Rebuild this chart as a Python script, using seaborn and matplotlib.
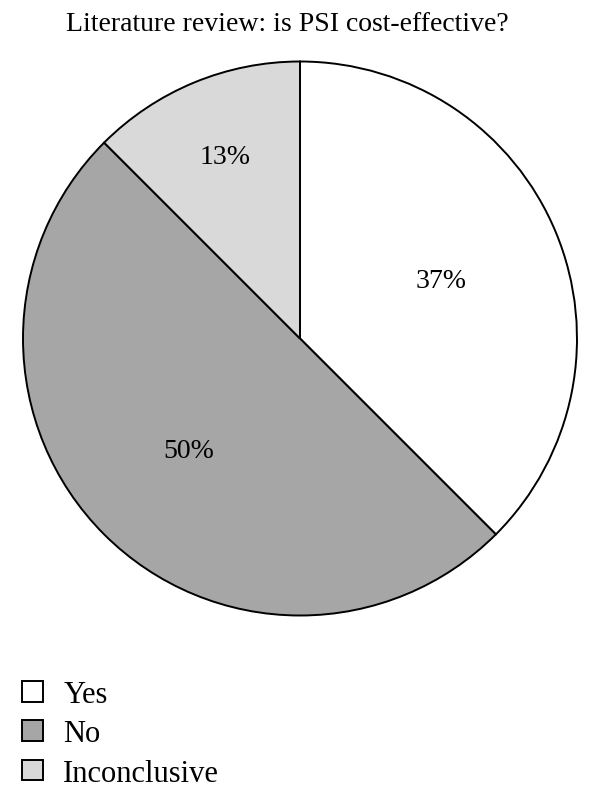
import numpy as np
import matplotlib
matplotlib.use("Agg")
import matplotlib.pyplot as plt
import seaborn as sns
from matplotlib.patches import Patch

sns.set_style("white")
plt.rcParams["font.family"] = ["Liberation Serif", "DejaVu Serif"]
plt.rcParams["text.color"] = "black"

# Data (wedge geometry: Yes + Inconclusive form a half circle)
categories = ["Yes", "No", "Inconclusive"]
shares = [37.5, 50.0, 12.5]
pct_labels = ["37%", "50%", "13%"]
colors = ["#FFFFFF", "#A6A6A6", "#D9D9D9"]
label_radius = [0.55, 0.57, 0.71]

fig = plt.figure(figsize=(6, 8.04), dpi=100)
ax = fig.add_axes([23 / 600, 187.5 / 804, 554 / 600, 554 / 804])

wedges, _ = ax.pie(
    shares, colors=colors, startangle=90, counterclock=False,
    wedgeprops=dict(edgecolor="black", linewidth=1.4),
)
for w, lab, r in zip(wedges, pct_labels, label_radius):
    mid = np.deg2rad((w.theta1 + w.theta2) / 2)
    ax.text(r * np.cos(mid), r * np.sin(mid), lab, ha="center", va="center",
            fontsize=20)

ax.set_xlim(-1, 1)
ax.set_ylim(-1, 1)
ax.set_aspect("equal")
ax.axis("off")

fig.text(287 / 600, 1 - 31 / 804, "Literature review: is PSI cost-effective?",
         ha="center", va="baseline", fontsize=20)

handles = [Patch(facecolor=c, edgecolor="black", linewidth=1.4) for c in colors]
fig.legend(handles, categories, loc="upper left", bbox_to_anchor=(0.037, 1 - 681 / 804),
           frameon=False, fontsize=22, handlelength=0.69, handleheight=0.66,
           handletextpad=0.65, labelspacing=0.34, borderaxespad=0, borderpad=0)

fig.savefig("out.png", dpi=100)
